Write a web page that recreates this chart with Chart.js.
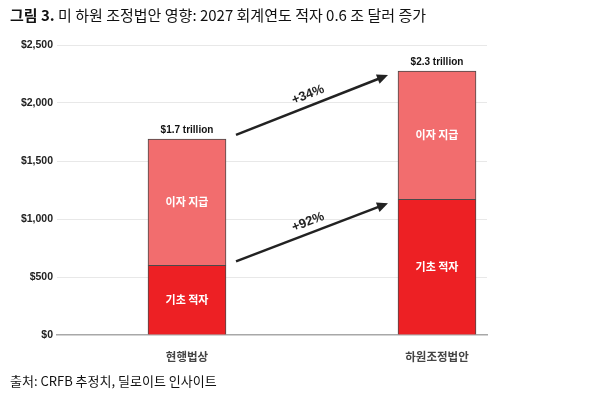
<!DOCTYPE html>
<html>
<head>
<meta charset="utf-8">
<script src="https://cdn.jsdelivr.net/npm/chart.js@4/dist/chart.umd.min.js"></script>
<style>
  body { margin: 0; background: #fff; }
  #wrap { position: relative; width: 600px; height: 393px; font-family: 'Noto Sans CJK KR', sans-serif; color: #111; }
  #titulo { position: absolute; left: 10px; top: 5px; font-size: 15px; line-height: 20px; white-space: nowrap; }
  #fonte { position: absolute; left: 10px; top: 371px; font-size: 13px; line-height: 20px; white-space: nowrap; }
  canvas { position: absolute; left: 0; top: 0; }
</style>
</head>
<body>
<div id="wrap">
  <canvas id="grafico" width="600" height="393"></canvas>
  <div id="titulo"><b>그림 3.</b> 미 하원 조정법안 영향: 2027 회계연도 적자 0.6 조 달러 증가</div>
  <div id="fonte">출처: CRFB 추정치, 딜로이트 인사이트</div>
</div>
<script>
const categorias = ['현행법상', '하원조정법안'];
const deficitBase = [600, 1170];      // 기초 적자
const jurosPagos = [1090, 1105];      // 이자 지급
const totais = ['$1.7 trillion', '$2.3 trillion'];
const variacoes = ['+34%', '+92%'];   // topo, base
const ticksY = [0, 500, 1000, 1500, 2000, 2500];

const fonteNum = "'Liberation Sans', 'Noto Sans CJK KR', sans-serif";
const fonteKr = "'Noto Sans CJK KR', sans-serif";

// rótulos dentro das barras, totais e setas
const anotacoes = {
  id: 'anotacoes',
  afterDatasetsDraw(chart) {
    const c = chart.ctx;
    const base = chart.getDatasetMeta(0).data;
    const topo = chart.getDatasetMeta(1).data;

    c.save();
    c.textAlign = 'center';
    c.textBaseline = 'middle';
    c.fillStyle = '#fff';
    c.font = 'bold 11px ' + fonteKr;
    chart.data.datasets.forEach((ds, d) => {
      chart.getDatasetMeta(d).data.forEach(b => {
        c.fillText(ds.label, b.x, (b.y + b.base) / 2);
      });
    });

    c.fillStyle = '#111';
    c.font = 'bold 10px ' + fonteNum;
    topo.forEach((b, i) => c.fillText(totais[i], b.x, b.y - 9));

    const setas = [[topo[0], topo[1]], [base[0], base[1]]];
    setas.forEach(([a, b], i) => {
      const x1 = a.x + a.width / 2 + 10, y1 = a.y - 4;
      const x2 = b.x - b.width / 2 - 10, y2 = b.y + 4;
      const ang = Math.atan2(y2 - y1, x2 - x1);
      c.strokeStyle = '#222';
      c.fillStyle = '#222';
      c.lineWidth = 2.5;
      c.beginPath();
      c.moveTo(x1, y1);
      c.lineTo(x2 - 8 * Math.cos(ang), y2 - 8 * Math.sin(ang));
      c.stroke();
      c.beginPath();
      c.moveTo(x2, y2);
      c.lineTo(x2 - 11 * Math.cos(ang) + 5 * Math.sin(ang), y2 - 11 * Math.sin(ang) - 5 * Math.cos(ang));
      c.lineTo(x2 - 11 * Math.cos(ang) - 5 * Math.sin(ang), y2 - 11 * Math.sin(ang) + 5 * Math.cos(ang));
      c.closePath();
      c.fill();

      const mx = (x1 + x2) / 2 + 11 * Math.sin(ang);
      const my = (y1 + y2) / 2 - 11 * Math.cos(ang);
      c.save();
      c.translate(mx, my);
      c.rotate(ang);
      c.font = 'bold 13px ' + fonteNum;
      c.fillText(variacoes[i], 0, 0);
      c.restore();
    });
    c.restore();
  }
};

const ctx = document.getElementById('grafico').getContext('2d');
new Chart(ctx, {
  type: 'bar',
  data: {
    datasets: [{
      label: '기초 적자',
      data: deficitBase.map((v, i) => ({ x: i, y: v })),
      backgroundColor: '#ED2024',
      borderColor: '#4a4a4a',
      borderWidth: 1,
      barThickness: 78
    }, {
      label: '이자 지급',
      data: jurosPagos.map((v, i) => ({ x: i, y: v })),
      backgroundColor: '#F26D6E',
      borderColor: '#4a4a4a',
      borderWidth: 1,
      barThickness: 78
    }]
  },
  options: {
    responsive: false,
    animation: false,
    layout: { padding: { top: 45, right: 113, bottom: 0, left: 0 } },
    plugins: { legend: { display: false }, tooltip: { enabled: false } },
    scales: {
      x: {
        type: 'linear',
        stacked: true,
        offset: false,
        min: -0.52,
        max: 1.2,
        afterBuildTicks: s => { s.ticks = categorias.map((_, i) => ({ value: i })); },
        afterFit: s => { s.height = 58; },
        grid: { display: false },
        border: { color: '#a8a8a8', width: 1.5 },
        ticks: {
          padding: 7,
          color: '#444',
          font: { family: fonteKr, size: 11.5, weight: 'bold' },
          callback: (v, i) => categorias[i]
        }
      },
      y: {
        stacked: true,
        min: 0,
        max: 2500,
        afterBuildTicks: s => { s.ticks = ticksY.map(v => ({ value: v })); },
        afterFit: s => { s.width = 57; },
        border: { display: false },
        grid: {
          color: ctx => ctx.tick.value === 0 ? 'rgba(0,0,0,0)' : '#e8e8e8',
          drawTicks: false
        },
        ticks: {
          padding: 4,
          color: '#222',
          font: { family: fonteNum, size: 10.5, weight: 'bold' },
          callback: v => '$' + v.toLocaleString('en-US')
        }
      }
    }
  },
  plugins: [anotacoes]
});
</script>
</body>
</html>
